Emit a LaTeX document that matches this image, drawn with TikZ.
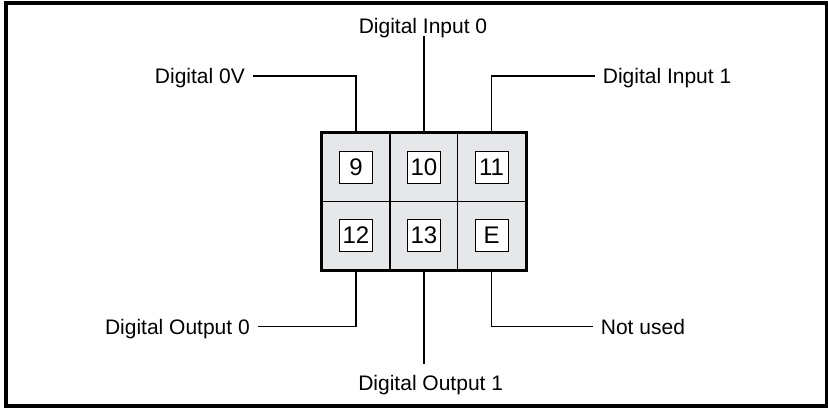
\documentclass[tikz,border=0pt]{standalone}
\usepackage{fontspec}
\setmainfont{Liberation Sans}
\definecolor{blockgrey}{HTML}{E6E7E8}
\tikzset{
  cell/.style={draw, fill=blockgrey, line width=1.3pt, minimum width=67.7pt, minimum height=68pt, inner sep=0pt},
  pin/.style={draw, fill=white, line width=0.8pt, minimum width=33pt, minimum height=32pt, inner sep=0pt, font=\fontsize{24}{26}\selectfont},
  lbl/.style={inner xsep=8pt, inner ysep=2pt, text height=15pt, text depth=0pt, font=\fontsize{21}{24}\selectfont},
  wire/.style={line width=1.8pt}
}
\begin{document}
\begin{tikzpicture}[x=1pt,y=-1pt]
			\useasboundingbox (0,0) rectangle (828,408);
			\draw[line width=4pt] (5.5,3) rectangle (826.5,405.5);
			% connector block
			\node[cell] (c9) at (356,167.5) {};
			\node[cell] (c10) at (424,167.5) {};
			\node[cell] (c11) at (491.5,167.5) {};
			\node[cell] (c12) at (356,235.5) {};
			\node[cell] (c13) at (424,235.5) {};
			\node[cell] (cE) at (491.5,235.5) {};
			\draw[line width=3pt] (c9.north west) rectangle (cE.south east);
			\node[pin] (p9) at (c9) {9};
			\node[pin] (p10) at (c10) {10};
			\node[pin] (p11) at (c11) {11};
			\node[pin] (p12) at (c12) {12};
			\node[pin] (p13) at (c13) {13};
			\node[pin] (pE) at (cE) {E};
			% labels
			\node[lbl, anchor=east] (lzero) at (253,76) {Digital 0V};
			\node[lbl] (lin0) at (423,26) {Digital Input 0};
			\node[lbl, anchor=west] (lin1) at (594.7,76) {Digital Input 1};
			\node[lbl, anchor=east] (lout0) at (258,326.5) {Digital Output 0};
			\node[lbl] (lout1) at (430.7,383) {Digital Output 1};
			\node[lbl, anchor=west] (lnu) at (592.7,326.5) {Not used};
			% wires
			\draw[wire] (lzero.east) -| (c9.north);
			\draw[wire] (lin0.south -| c10.north) -- (c10.north);
			\draw[wire] (lin1.west) -| (c11.north);
			\draw[wire] (lout0.east) -| (c12.south);
			\draw[wire, shorten >=9pt] (c13.south) -- (c13.south |- lout1.north);
			\draw[wire] (lnu.west) -| (cE.south);
		\end{tikzpicture}
\end{document}
